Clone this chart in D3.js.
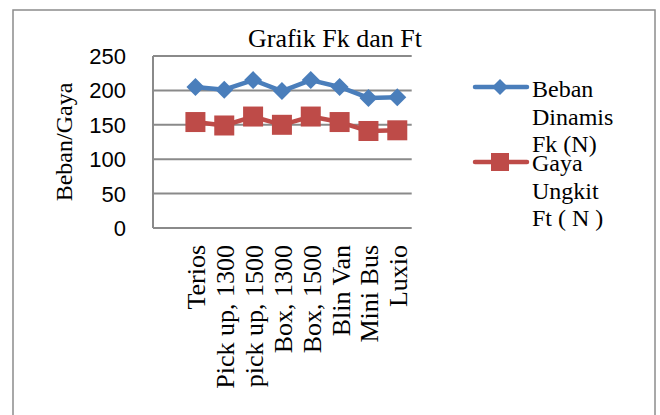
<!DOCTYPE html>
<html><head><meta charset="utf-8">
<script src="https://cdn.jsdelivr.net/npm/d3@7/dist/d3.min.js"></script>
<style>body{margin:0;background:#fff}svg{display:block}
.serif{font-family:"Liberation Serif","Times New Roman",serif}
.sans{font-family:"Liberation Sans",Arial,sans-serif}</style>
</head><body>
<script>
const categories = ["Terios","Pick up, 1300","pick up, 1500","Box, 1300","Box, 1500","Blin Van","Mini Bus","Luxio"];
const bebanDinamis = [205, 201, 215, 199, 215, 205, 189, 190];
const gayaUngkit = [154, 149, 162, 150, 162, 154, 141, 142];
const yTicks = [0, 50, 100, 150, 200, 250];
const seriesNames = [["Beban","Dinamis","Fk (N)"],["Gaya","Ungkit","Ft ( N )"]];

const W = 660, H = 415;
const svg = d3.select("body").append("svg").attr("width", W).attr("height", H);

svg.append("rect").attr("x", 13).attr("y", 10).attr("width", 642).attr("height", 420)
  .attr("fill", "#fff").attr("stroke", "#8c8c8c").attr("stroke-width", 1.5);

const plotL = 153, plotR = 411.7, plotT = 56, plotB = 228;
const x = d3.scaleBand().domain(categories).range([181, plotR]);
const y = d3.scaleLinear().domain([0, 250]).range([plotB, plotT]);

// gridlines
svg.append("g").selectAll("line").data(yTicks).join("line")
  .attr("x1", plotL).attr("x2", plotR)
  .attr("y1", d => y(d)).attr("y2", d => y(d))
  .attr("stroke", "#8a8a8a").attr("stroke-width", 2);
svg.append("line").attr("x1", plotL).attr("x2", plotL).attr("y1", y(250)).attr("y2", y(0))
  .attr("stroke", "#8a8a8a").attr("stroke-width", 2);

// y tick labels
svg.append("g").selectAll("text").data(yTicks).join("text")
  .attr("class", "sans")
  .attr("x", 126).attr("y", d => y(d)).attr("dy", "0.36em")
  .attr("text-anchor", "end").attr("font-size", 22).attr("fill", "#000")
  .text(d => d);

// x tick labels
svg.append("g").selectAll("text").data(categories).join("text")
  .attr("class", "serif")
  .attr("transform", d => `translate(${x(d) + x.bandwidth()/2 + 10},245) rotate(-90)`)
  .attr("text-anchor", "end").attr("font-size", 26).attr("fill", "#000")
  .text(d => d);

// axis title
svg.append("text").attr("class", "serif").attr("transform", "translate(72,142) rotate(-90)")
  .attr("text-anchor", "middle").attr("font-size", 24).text("Beban/Gaya");

// title
svg.append("text").attr("class", "serif").attr("x", 335).attr("y", 47).attr("text-anchor", "middle")
  .attr("font-size", 26).text("Grafik Fk dan Ft");

const cx = d => x(d) + x.bandwidth()/2;
const line = d3.line().x((d, i) => cx(categories[i])).y(d => y(d));
const blue = "#4a7ebb", red = "#be4b48";

svg.append("path").datum(gayaUngkit).attr("d", line).attr("fill", "none")
  .attr("stroke", red).attr("stroke-width", 4.5).attr("stroke-linejoin", "round");
svg.append("g").selectAll("rect").data(gayaUngkit).join("rect")
  .attr("x", (d, i) => cx(categories[i]) - 10).attr("y", d => y(d) - 10)
  .attr("width", 20).attr("height", 20).attr("fill", red);

svg.append("path").datum(bebanDinamis).attr("d", line).attr("fill", "none")
  .attr("stroke", blue).attr("stroke-width", 4.5).attr("stroke-linejoin", "round");
const diamond = s => `M0,${-s}L${s},0L0,${s}L${-s},0Z`;
svg.append("g").selectAll("path").data(bebanDinamis).join("path")
  .attr("transform", (d, i) => `translate(${cx(categories[i])},${y(d)})`)
  .attr("d", diamond(9)).attr("fill", blue);

// legend
const leg = svg.append("g");
const legY = [87, 162];
const legBase = [97, 171];
[blue, red].forEach((c, k) => {
  leg.append("line").attr("x1", 475).attr("x2", 527).attr("y1", legY[k]).attr("y2", legY[k])
    .attr("stroke", c).attr("stroke-width", 4.5).attr("stroke-linecap", "round");
  if (k === 0) leg.append("path").attr("transform", `translate(500,${legY[k]})`).attr("d", diamond(8)).attr("fill", c);
  else leg.append("rect").attr("x", 491).attr("y", legY[k] - 9).attr("width", 18).attr("height", 18).attr("fill", c);
  seriesNames[k].forEach((t, j) => {
    leg.append("text").attr("class", "serif").attr("x", 532).attr("y", legBase[k] + j * 27.5)
      .attr("font-size", 24).text(t);
  });
});
</script>
</body></html>
